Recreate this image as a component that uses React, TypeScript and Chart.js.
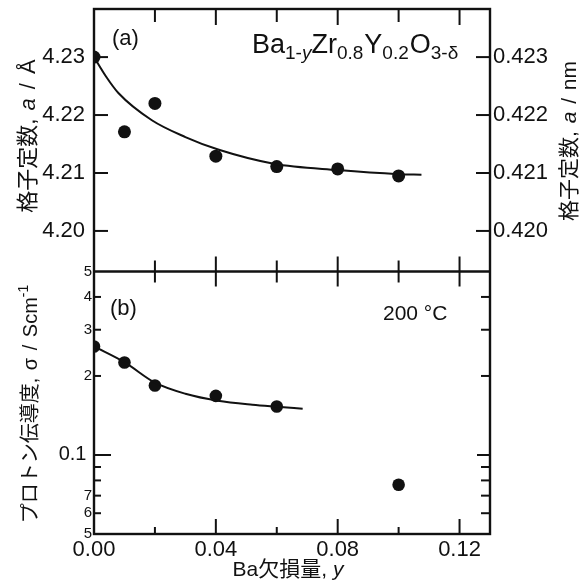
import React, { useEffect, useRef } from "react";
import { Chart, registerables } from "chart.js";

Chart.register(...registerables);

const INK = "#111111";
const FONT = '"Liberation Sans", Arial, "Noto Sans CJK JP", sans-serif';

// ---- data ----
const baDeficiency = [0, 0.01, 0.02, 0.04, 0.06, 0.08, 0.1];
const latticeConstantA = [4.23, 4.2171, 4.222, 4.2129, 4.2111, 4.2107, 4.2095];

const latticeFitY = [0, 0.004, 0.008, 0.019, 0.03, 0.041, 0.059, 0.08, 0.1, 0.1075];
const latticeFitA = [4.23, 4.2266, 4.2238, 4.2191, 4.2162, 4.214, 4.2116, 4.2105, 4.2098, 4.2097];

const sigmaY = [0, 0.01, 0.02, 0.04, 0.06, 0.1];
const protonConductivity = [0.259, 0.225, 0.184, 0.168, 0.153, 0.077];

const sigmaFitY = [0, 0.0102, 0.02, 0.03, 0.0407, 0.052, 0.06, 0.0685];
const sigmaFit = [0.259, 0.2248, 0.1886, 0.1711, 0.1609, 0.1553, 0.1526, 0.15];

// ---- ticks ----
const xTickValues = [0, 0.04, 0.08, 0.12];
const xMinorTickValues = [0.02, 0.06, 0.1];
const latticeTickValues = [4.2, 4.21, 4.22, 4.23];
const latticeNmTickValues = [0.42, 0.421, 0.422, 0.423];
const sigmaTickValues = [0.05, 0.06, 0.07, 0.1, 0.2, 0.3, 0.4, 0.5];
const sigmaTickLabels = ["5", "6", "7", "0.1 ", "2", "3", "4", "5"];
const sigmaMajorTickValues = [0.1];
const sigmaMinorTickValues = [0.06, 0.07, 0.08, 0.09, 0.2, 0.3, 0.4];

const X_RANGE = [0, 0.13];
const A_RANGE = [4.193, 4.2383];
const SIGMA_RANGE = [0.05, 0.5];

type Run = { t: string; size: number; italic?: boolean; dy?: number; gap?: number };

function drawRuns(
  ctx: CanvasRenderingContext2D,
  runs: Run[],
  x: number,
  y: number,
  align: "left" | "center",
  rotate = 0
) {
  ctx.save();
  ctx.translate(x, y);
  if (rotate) ctx.rotate(rotate);
  ctx.textBaseline = "alphabetic";
  ctx.textAlign = "left";
  ctx.fillStyle = INK;
  const fontOf = (r: Run) => `${r.italic ? "italic " : ""}${r.size}px ${FONT}`;
  const widths = runs.map((r) => {
    ctx.font = fontOf(r);
    return ctx.measureText(r.t).width + (r.gap || 0);
  });
  const total = widths.reduce((a, b) => a + b, 0);
  let cx = align === "center" ? -total / 2 : 0;
  runs.forEach((r, i) => {
    ctx.font = fontOf(r);
    ctx.fillText(r.t, cx, r.dy || 0);
    cx += widths[i];
  });
  ctx.restore();
}

const framePlugin = {
  id: "frameAndTicks",
  beforeDatasetsDraw(chart: any) {
    const ctx: CanvasRenderingContext2D = chart.ctx;
    const { left, right, top, bottom } = chart.chartArea;
    const sx = chart.scales.x;
    const sA = chart.scales.yA;
    const sB = chart.scales.yB;
    const mid = sA.bottom;
    ctx.save();
    ctx.strokeStyle = INK;
    ctx.lineWidth = 2;
    const line = (x1: number, y1: number, x2: number, y2: number) => {
      ctx.beginPath();
      ctx.moveTo(x1, y1);
      ctx.lineTo(x2, y2);
      ctx.stroke();
    };
    // x ticks
    xTickValues.forEach((v) => {
      if (v === X_RANGE[0]) return;
      const px = sx.getPixelForValue(v);
      line(px, top, px, top + 16);
      line(px, mid - 15, px, mid + 15);
      line(px, bottom, px, bottom - 15);
    });
    xMinorTickValues.forEach((v) => {
      const px = sx.getPixelForValue(v);
      line(px, top, px, top + 13);
      line(px, mid - 11, px, mid + 11);
      line(px, bottom, px, bottom - 7);
    });
    // lattice ticks
    latticeTickValues.forEach((v) => {
      const py = sA.getPixelForValue(v);
      line(left, py, left + 14, py);
      line(right, py, right - 14, py);
    });
    // sigma ticks
    sigmaMajorTickValues.forEach((v) => {
      const py = sB.getPixelForValue(v);
      line(left, py, left + 17, py);
      line(right, py, right - 13, py);
    });
    sigmaMinorTickValues.forEach((v) => {
      const py = sB.getPixelForValue(v);
      line(left, py, left + 7, py);
      line(right, py, right - 9, py);
    });
    // frame
    ctx.lineWidth = 2.4;
    ctx.strokeRect(left, top, right - left, bottom - top);
    line(left, mid, right, mid);
    ctx.restore();
  },
  afterDraw(chart: any) {
    const ctx: CanvasRenderingContext2D = chart.ctx;
    const { left, right, top, bottom } = chart.chartArea;
    const mid = chart.scales.yA.bottom;
    // panel labels
    drawRuns(ctx, [{ t: "(a)", size: 22 }], left + 18, top + 36, "left");
    drawRuns(ctx, [{ t: "(b)", size: 22 }], left + 16, mid + 43, "left");
    drawRuns(ctx, [{ t: "200 °C", size: 21 }], left + 289, mid + 48, "left");
    // formula
    drawRuns(
      ctx,
      [
        { t: "Ba", size: 27 },
        { t: "1-", size: 19, dy: 6 },
        { t: "y", size: 19, dy: 6, italic: true },
        { t: "Zr", size: 27 },
        { t: "0.8", size: 19, dy: 6, gap: 1 },
        { t: "Y", size: 27 },
        { t: "0.2", size: 19, dy: 6, gap: 1 },
        { t: "O", size: 27 },
        { t: "3-δ", size: 19, dy: 6 },
      ],
      left + 158,
      top + 44,
      "left"
    );
    // left title (a)
    drawRuns(
      ctx,
      [
        { t: "格子定数", size: 22 },
        { t: ", ", size: 22, gap: 2 },
        { t: "a", size: 22, italic: true, gap: 3 },
        { t: " / ", size: 22, gap: 3 },
        { t: "Å", size: 22 },
      ],
      27 + 22 * 0.36,
      136,
      "center",
      -Math.PI / 2
    );
    // right title
    drawRuns(
      ctx,
      [
        { t: "格子定数", size: 21 },
        { t: ", ", size: 21, gap: 2 },
        { t: "a", size: 21, italic: true, gap: 2 },
        { t: " / ", size: 21, gap: 2 },
        { t: "nm", size: 21 },
      ],
      568 + 21 * 0.36,
      141,
      "center",
      -Math.PI / 2
    );
    // left title (b)
    drawRuns(
      ctx,
      [
        { t: "プロトン伝導度", size: 20 },
        { t: ", ", size: 20, gap: 2 },
        { t: "σ", size: 20, gap: 2 },
        { t: " / ", size: 20, gap: 2 },
        { t: "Scm", size: 20 },
        { t: "-1", size: 14, dy: -9 },
      ],
      30 + 20 * 0.36,
      404,
      "center",
      -Math.PI / 2
    );
    // x title
    drawRuns(
      ctx,
      [
        { t: "Ba欠損量, ", size: 21 },
        { t: "y", size: 21, italic: true },
      ],
      (left + right) / 2 - 4,
      bottom + 42,
      "center"
    );
  },
};

const noPad = (s: any) => {
  s.paddingTop = 0;
  s.paddingBottom = 0;
  s.paddingLeft = 0;
  s.paddingRight = 0;
};

export default function App() {
  const ref = useRef<HTMLCanvasElement | null>(null);
  useEffect(() => {
    if (!ref.current) return;
    const pts = (xs: number[], ys: number[]) => xs.map((x, i) => ({ x, y: ys[i] }));
    const chart = new Chart(ref.current, {
      type: "scatter",
      data: {
        datasets: [
          {
            label: "lattice fit",
            data: pts(latticeFitY, latticeFitA),
            yAxisID: "yA",
            showLine: true,
            pointRadius: 0,
            borderColor: INK,
            borderWidth: 2,
            cubicInterpolationMode: "monotone",
            fill: false,
          },
          {
            label: "lattice",
            data: pts(baDeficiency, latticeConstantA),
            yAxisID: "yA",
            showLine: false,
            pointRadius: 6.5,
            backgroundColor: INK,
            borderColor: INK,
            borderWidth: 0,
          },
          {
            label: "sigma fit",
            data: pts(sigmaFitY, sigmaFit),
            yAxisID: "yB",
            showLine: true,
            pointRadius: 0,
            borderColor: INK,
            borderWidth: 2,
            cubicInterpolationMode: "monotone",
            fill: false,
          },
          {
            label: "sigma",
            data: pts(sigmaY, protonConductivity),
            yAxisID: "yB",
            showLine: false,
            pointRadius: 6.3,
            backgroundColor: INK,
            borderColor: INK,
            borderWidth: 0,
          },
        ],
      },
      options: {
        responsive: false,
        animation: false,
        devicePixelRatio: 1,
        events: [],
        layout: { padding: { top: 9, left: 0, right: 0, bottom: 0 } },
        plugins: {
          legend: { display: false },
          tooltip: { enabled: false },
          title: { display: false },
        },
        scales: {
          x: {
            type: "linear",
            position: "bottom",
            min: X_RANGE[0],
            max: X_RANGE[1],
            grid: { display: false, drawTicks: false },
            border: { display: false },
            afterBuildTicks: (s: any) => {
              s.ticks = xTickValues.map((value) => ({ value }));
            },
            afterFit: (s: any) => {
              s.height = 51;
              noPad(s);
            },
            ticks: {
              callback: (v: any) => Number(v).toFixed(2),
              font: { size: 22, family: FONT },
              color: INK,
              padding: 3,
              maxRotation: 0,
              autoSkip: false,
            },
          },
          yA: {
            type: "linear",
            position: "left",
            stack: "left",
            stackWeight: 1,
            weight: 1,
            min: A_RANGE[0],
            max: A_RANGE[1],
            grid: { display: false, drawTicks: false },
            border: { display: false },
            afterBuildTicks: (s: any) => {
              s.ticks = latticeTickValues.map((value) => ({ value }));
            },
            afterFit: (s: any) => {
              s.width = 94;
              noPad(s);
            },
            ticks: {
              callback: (v: any) => Number(v).toFixed(2),
              font: { size: 22, family: FONT },
              color: INK,
              padding: 9,
              autoSkip: false,
            },
          },
          yB: {
            type: "logarithmic",
            position: "left",
            stack: "left",
            stackWeight: 1,
            weight: 0,
            min: SIGMA_RANGE[0],
            max: SIGMA_RANGE[1],
            grid: { display: false, drawTicks: false },
            border: { display: false },
            afterBuildTicks: (s: any) => {
              s.ticks = sigmaTickValues.map((value) => ({ value }));
            },
            afterFit: (s: any) => {
              s.width = 94;
              noPad(s);
            },
            ticks: {
              callback: (v: any) => {
                const i = sigmaTickValues.findIndex((t) => Math.abs(t - Number(v)) < 1e-9);
                return i >= 0 ? sigmaTickLabels[i] : "";
              },
              font: (c: any) => ({
                size: c.tick && Math.abs(c.tick.value - 0.1) < 1e-9 ? 20 : 15,
                family: FONT,
              }),
              color: INK,
              padding: 2,
              autoSkip: false,
            },
          },
          yA2: {
            type: "linear",
            position: "right",
            stack: "right",
            stackWeight: 1,
            weight: 0,
            min: A_RANGE[0] / 10,
            max: A_RANGE[1] / 10,
            grid: { display: false, drawTicks: false },
            border: { display: false },
            afterBuildTicks: (s: any) => {
              s.ticks = latticeNmTickValues.map((value) => ({ value }));
            },
            afterFit: (s: any) => {
              s.width = 95;
              noPad(s);
            },
            ticks: {
              callback: (v: any) => Number(v).toFixed(3),
              font: { size: 22, family: FONT },
              color: INK,
              padding: 3,
              autoSkip: false,
            },
          },
          yB2: {
            type: "logarithmic",
            position: "right",
            stack: "right",
            stackWeight: 1,
            weight: 1,
            min: SIGMA_RANGE[0],
            max: SIGMA_RANGE[1],
            grid: { display: false, drawTicks: false },
            border: { display: false },
            afterFit: (s: any) => {
              s.width = 95;
              noPad(s);
            },
            ticks: { display: false },
          },
        },
      } as any,
      plugins: [framePlugin as any],
    });
    return () => chart.destroy();
  }, []);
  return (
    <div style={{ position: "fixed", left: 0, top: 0, width: 585, height: 585, background: "#fff" }}>
      <canvas ref={ref} width={585} height={585} style={{ width: 585, height: 585, display: "block" }} />
    </div>
  );
}
